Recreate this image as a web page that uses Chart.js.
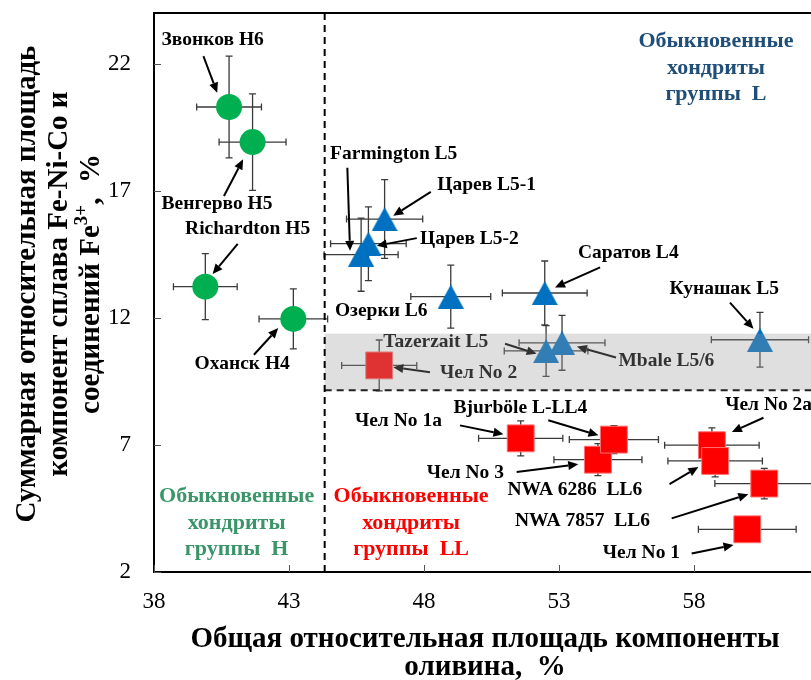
<!DOCTYPE html>
<html>
<head>
<meta charset="utf-8">
<script src="https://cdn.jsdelivr.net/npm/chart.js@4.4.1/dist/chart.umd.min.js"></script>
<style>
  html, body { margin: 0; padding: 0; background: #fff; }
  #wrap { width: 811px; height: 680px; }
</style>
</head>
<body>
<div id="wrap"><canvas id="chart" width="811" height="680"></canvas></div>
<script>
// axis ticks
const xTicks = [38, 43, 48, 53, 58];
const yTicks = [2, 7, 12, 17, 22];

// H chondrites
const hNames = ['Звонков H6', 'Венгерво H5', 'Richardton H5', 'Оханск H4'];
const hX = [40.78, 41.65, 39.9, 43.16];
const hY = [20.3, 18.92, 13.23, 11.96];
const hXErr = [1.2, 1.24, 1.18, 1.27];
const hYErr = [2.0, 1.9, 1.3, 1.18];

// L chondrites
const lNames = ['Farmington L5', 'Царев L5-1', 'Царев L5-2', 'Озерки L6', 'Саратов L4', 'Tazerzait L5', 'Mbale L5/6', 'Кунашак L5'];
const lX = [45.67, 46.54, 45.94, 48.99, 52.47, 52.52, 53.11, 60.44];
const lY = [14.49, 15.89, 14.92, 12.84, 12.98, 10.7, 11.02, 11.14];
const lXErr = [1.37, 1.41, 1.4, 1.48, 1.57, 1.55, 1.59, 1.8];
const lYErr = [1.44, 1.55, 1.45, 1.24, 1.26, 1.0, 1.08, 1.08];

// LL chondrites
const llNames = ['Чел No 2', 'Чел No 1a', 'Чел No 3', 'Bjurböle L-LL4', 'Чел No 2a', 'NWA 6286 LL6', 'NWA 7857 LL6', 'Чел No 1'];
const llX = [46.34, 51.58, 54.44, 55.03, 58.66, 58.78, 60.6, 59.97];
const llY = [10.13, 7.26, 6.42, 7.21, 6.99, 6.37, 5.48, 3.68];
const llXErr = [1.39, 1.56, 1.63, 1.65, 1.75, 1.75, 1.83, 1.81];
const llYErr = [1.0, 0.69, 0.63, 0.55, 0.68, 0.63, 0.6, 0.4];

// boundaries
const hBorder = 44.32;
const bandLow = 9.15;
const bandHigh = 11.38;

const SERIF = "'Liberation Serif', 'Times New Roman', serif";

// labels with arrows, in data units
const notes = [
    { text: 'Звонков H6', at: [38.28, 22.93], from: [39.83, 22.30], to: [40.34, 20.86] },
    { text: 'Венгерво H5', at: [38.28, 16.49], from: [40.59, 16.80], to: [41.30, 18.24] },
    { text: 'Richardton H5', at: [39.15, 15.51], from: [41.10, 14.91], to: [40.17, 13.73] },
    { text: 'Оханск H4', at: [39.5, 10.2], from: [41.7, 10.55], to: [42.6, 11.6] },
    { text: 'Farmington L5', at: [44.52, 18.45], from: [45.16, 17.91], to: [45.26, 14.64] },
    { text: 'Царев L5-1', at: [48.49, 17.23], from: [48.25, 16.96], to: [46.86, 16.02] },
    { text: 'Царев L5-2', at: [47.85, 15.11], from: [47.73, 15.14], to: [46.25, 14.84] },
    { text: 'Озерки L6', at: [44.70, 12.29] },
    { text: 'Саратов L4', at: [53.70, 14.54], from: [54.52, 13.99], to: [52.85, 13.20] },
    { text: 'Tazerzait L5', at: [46.49, 11.07], from: [51.0, 10.98], to: [52.17, 10.59] },
    { text: 'Mbale L5/6', at: [55.20, 10.32], from: [55.11, 10.44], to: [53.66, 10.87] },
    { text: 'Кунашак L5', at: [57.09, 13.15], from: [59.33, 12.60], to: [60.20, 11.57] },
    { text: 'Чел No 2', at: [48.59, 9.85], from: [48.22, 9.86], to: [46.86, 10.06] },
    { text: 'Чел No 1a', at: [45.44, 7.93], from: [49.33, 7.77], to: [50.94, 7.42] },
    { text: 'Bjurböle L-LL4', at: [49.09, 8.44], from: [52.60, 7.97], to: [54.46, 7.38] },
    { text: 'Чел No 3', at: [48.10, 5.89], from: [51.43, 5.94], to: [53.71, 6.24] },
    { text: 'Чел No 2a', at: [59.15, 8.56], from: [60.57, 8.07], to: [59.40, 7.51] },
    { text: 'NWA 6286  LL6', at: [51.09, 5.22], from: [57.09, 5.46], to: [58.16, 6.13] },
    { text: 'NWA 7857  LL6', at: [51.37, 4.0], from: [57.17, 4.11], to: [60.01, 5.06] },
    { text: 'Чел No 1', at: [54.62, 2.75], from: [57.91, 2.73], to: [59.46, 3.06] }
];

// group captions
const groups = [
    { lines: ['Обыкновенные', 'хондриты', 'группы  L'], at: [58.81, 22.89], color: '#1F4E79' },
    { lines: ['Обыкновенные', 'хондриты', 'группы  H'], at: [41.06, 4.98], color: '#3A9668' },
    { lines: ['Обыкновенные', 'хондриты', 'группы  LL'], at: [47.52, 4.98], color: '#FF0000' }
];

function toPoints(xs, ys) {
    return xs.map((x, i) => ({ x: x, y: ys[i] }));
}

// blue triangle marker
function makeTriangle(color) {
    const c = document.createElement('canvas');
    c.width = 26;
    c.height = 24;
    const g = c.getContext('2d');
    g.fillStyle = color;
    g.beginPath();
    g.moveTo(13, 0);
    g.lineTo(26, 24);
    g.lineTo(0, 24);
    g.closePath();
    g.fill();
    return c;
}

const errors = [
    { xs: hX, ys: hY, ex: hXErr, ey: hYErr },
    { xs: lX, ys: lY, ex: lXErr, ey: lYErr },
    { xs: llX, ys: llY, ex: llXErr, ey: llYErr }
];

const errorBars = {
    id: 'errorBars',
    beforeDatasetsDraw(chart) {
        const { ctx, scales: { x, y }, chartArea } = chart;
        ctx.save();
        ctx.beginPath();
        ctx.rect(chartArea.left, chartArea.top, chartArea.right - chartArea.left, chartArea.bottom - chartArea.top);
        ctx.clip();
        ctx.strokeStyle = '#3a3a3a';
        ctx.lineWidth = 1.3;
        const cap = 3.5;
        errors.forEach(s => {
            s.xs.forEach((v, i) => {
                const px = x.getPixelForValue(v);
                const py = y.getPixelForValue(s.ys[i]);
                const x0 = x.getPixelForValue(v - s.ex[i]);
                const x1 = x.getPixelForValue(v + s.ex[i]);
                const y0 = y.getPixelForValue(s.ys[i] - s.ey[i]);
                const y1 = y.getPixelForValue(s.ys[i] + s.ey[i]);
                ctx.beginPath();
                ctx.moveTo(x0, py); ctx.lineTo(x1, py);
                ctx.moveTo(x0, py - cap); ctx.lineTo(x0, py + cap);
                ctx.moveTo(x1, py - cap); ctx.lineTo(x1, py + cap);
                ctx.moveTo(px, y0); ctx.lineTo(px, y1);
                ctx.moveTo(px - cap, y0); ctx.lineTo(px + cap, y0);
                ctx.moveTo(px - cap, y1); ctx.lineTo(px + cap, y1);
                ctx.stroke();
            });
        });
        ctx.restore();
    }
};

function arrow(ctx, x0, y0, x1, y1) {
    const a = Math.atan2(y1 - y0, x1 - x0);
    const len = 10, half = 4.5;
    const bx = x1 - Math.cos(a) * len, by = y1 - Math.sin(a) * len;
    ctx.beginPath();
    ctx.moveTo(x0, y0);
    ctx.lineTo(bx, by);
    ctx.stroke();
    ctx.beginPath();
    ctx.moveTo(x1, y1);
    ctx.lineTo(bx + Math.sin(a) * half, by - Math.cos(a) * half);
    ctx.lineTo(bx - Math.sin(a) * half, by + Math.cos(a) * half);
    ctx.closePath();
    ctx.fill();
}

const decorations = {
    id: 'decorations',
    afterDatasetsDraw(chart) {
        const { ctx, scales: { x, y }, chartArea } = chart;
        ctx.save();

        // point labels and arrows
        ctx.fillStyle = '#000';
        ctx.strokeStyle = '#000';
        ctx.lineWidth = 2;
        ctx.font = 'bold 19.5px ' + SERIF;
        ctx.textAlign = 'left';
        ctx.textBaseline = 'middle';
        notes.forEach(n => {
            ctx.fillText(n.text, x.getPixelForValue(n.at[0]), y.getPixelForValue(n.at[1]));
            if (n.from) {
                arrow(ctx, x.getPixelForValue(n.from[0]), y.getPixelForValue(n.from[1]),
                    x.getPixelForValue(n.to[0]), y.getPixelForValue(n.to[1]));
            }
        });

        // gray band over the L/LL overlap
        const bx = x.getPixelForValue(hBorder);
        const by0 = y.getPixelForValue(bandHigh);
        const by1 = y.getPixelForValue(bandLow);
        ctx.fillStyle = 'rgba(157,157,157,0.32)';
        ctx.fillRect(bx, by0, chartArea.right - bx, by1 - by0);

        ctx.strokeStyle = '#222';
        ctx.lineWidth = 2;
        ctx.setLineDash([7, 5]);
        ctx.beginPath();
        ctx.moveTo(bx, by1);
        ctx.lineTo(chartArea.right, by1);
        ctx.stroke();

        // H boundary
        ctx.strokeStyle = '#000';
        ctx.beginPath();
        ctx.moveTo(bx, chartArea.top);
        ctx.lineTo(bx, chartArea.bottom);
        ctx.stroke();
        ctx.setLineDash([]);

        // group captions
        ctx.font = 'bold 22px ' + SERIF;
        ctx.textAlign = 'center';
        groups.forEach(g => {
            ctx.fillStyle = g.color;
            const gx = x.getPixelForValue(g.at[0]);
            const gy = y.getPixelForValue(g.at[1]);
            g.lines.forEach((t, i) => ctx.fillText(t, gx, gy + i * 26.7));
        });
        ctx.restore();
    },
    afterDraw(chart) {
        const { ctx, scales: { x, y }, chartArea } = chart;
        ctx.save();
        ctx.strokeStyle = '#000';

        // top frame line
        ctx.lineWidth = 2;
        ctx.beginPath();
        ctx.moveTo(chartArea.left - 1, chartArea.top);
        ctx.lineTo(chartArea.right, chartArea.top);
        ctx.stroke();

        // inward tick marks
        ctx.lineWidth = 1;
        ctx.strokeStyle = '#555';
        ctx.beginPath();
        xTicks.forEach(v => {
            const px = Math.round(x.getPixelForValue(v)) + 0.5;
            ctx.moveTo(px, chartArea.bottom);
            ctx.lineTo(px, chartArea.bottom - 7);
        });
        yTicks.forEach(v => {
            const py = Math.round(y.getPixelForValue(v)) + 0.5;
            ctx.moveTo(chartArea.left, py);
            ctx.lineTo(chartArea.left + 7, py);
        });
        ctx.stroke();

        // x axis title
        ctx.fillStyle = '#000';
        ctx.textAlign = 'center';
        ctx.textBaseline = 'alphabetic';
        ctx.font = 'bold 29px ' + SERIF;
        ctx.fillText('Общая относительная площадь компоненты', 485, 647);
        ctx.fillText('оливина,  %', 485, 675);

        // y axis title
        ctx.translate(0, 284);
        ctx.rotate(-Math.PI / 2);
        ctx.fillText('Суммарная относительная площадь', 0, 35);
        ctx.fillText('компонент сплава Fe-Ni-Co и', 0, 67);
        const part1 = 'соединений Fe';
        const part2 = ',  %';
        const w1 = ctx.measureText(part1).width;
        const w3 = ctx.measureText(part2).width;
        ctx.font = 'bold 19px ' + SERIF;
        const w2 = ctx.measureText('3+').width;
        const start = -(w1 + w2 + w3) / 2;
        ctx.textAlign = 'left';
        ctx.fillText('3+', start + w1, 87);
        ctx.font = 'bold 29px ' + SERIF;
        ctx.fillText(part1, start, 99);
        ctx.fillText(part2, start + w1 + w2, 99);
        ctx.restore();
    }
};

function noPadding(s) {
    s.paddingTop = 0;
    s.paddingBottom = 0;
    s.paddingLeft = 0;
    s.paddingRight = 0;
}

const chart = new Chart(document.getElementById('chart').getContext('2d'), {
    type: 'scatter',
    data: {
        datasets: [
            {
                label: 'H',
                data: toPoints(hX, hY),
                pointStyle: 'circle',
                pointRadius: 13,
                backgroundColor: '#00B050',
                borderColor: '#00B050',
                borderWidth: 0
            },
            {
                label: 'L',
                data: toPoints(lX, lY),
                pointStyle: makeTriangle('#0070C0'),
                pointRadius: 13
            },
            {
                label: 'LL',
                data: toPoints(llX, llY),
                pointStyle: 'rect',
                pointRadius: 19,
                backgroundColor: '#FF0000',
                borderColor: '#FF7070',
                borderWidth: 1
            }
        ]
    },
    options: {
        responsive: false,
        animation: false,
        layout: { autoPadding: false, padding: { top: 13, left: 0, right: 0, bottom: 0 } },
        plugins: {
            legend: { display: false },
            tooltip: { enabled: false }
        },
        scales: {
            x: {
                type: 'linear',
                min: 38,
                max: 62.33,
                afterBuildTicks: s => { s.ticks = xTicks.map(v => ({ value: v })); },
                afterFit: s => { s.height = 108; noPadding(s); },
                grid: { display: false, drawTicks: false },
                border: { display: true, color: '#000', width: 2 },
                ticks: {
                    padding: 16,
                    maxRotation: 0,
                    color: '#000',
                    font: { family: SERIF, size: 23 }
                }
            },
            y: {
                type: 'linear',
                min: 2,
                max: 24,
                afterBuildTicks: s => { s.ticks = yTicks.map(v => ({ value: v })); },
                afterFit: s => { s.width = 154; noPadding(s); },
                grid: { display: false, drawTicks: false },
                border: { display: true, color: '#000', width: 2 },
                ticks: {
                    padding: 23,
                    color: '#000',
                    font: { family: SERIF, size: 23 }
                }
            }
        }
    },
    plugins: [errorBars, decorations]
});
</script>
</body>
</html>
